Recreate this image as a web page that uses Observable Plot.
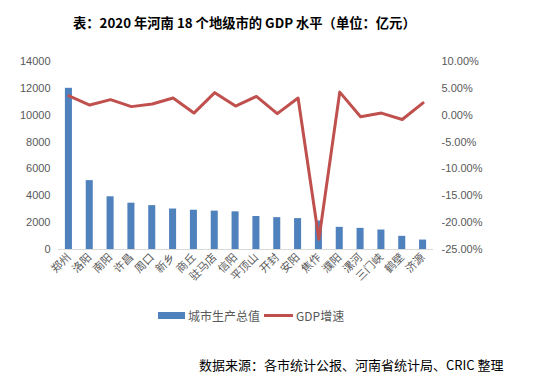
<!DOCTYPE html>
<html><head><meta charset="utf-8">
<script src="https://cdn.jsdelivr.net/npm/d3@7"></script>
<script src="https://cdn.jsdelivr.net/npm/@observablehq/plot@0.6"></script>
<style>
body{margin:0;background:#fff;width:534px;height:379px;position:relative;overflow:hidden;font-family:"Liberation Sans","Noto Sans CJK SC",sans-serif;}
#title{position:absolute;left:73px;top:13px;font:bold 13.3px "Noto Sans CJK SC",sans-serif;color:#000;white-space:nowrap;}
#chart{position:absolute;left:0;top:0;}
#legend{position:absolute;left:158px;top:307px;font:12px "Noto Sans CJK SC",sans-serif;color:#595959;display:flex;align-items:center;white-space:nowrap;}
#source{position:absolute;left:199px;top:355px;font:13px "Noto Sans CJK SC",sans-serif;color:#000;white-space:nowrap;}
</style></head>
<body>
<div id="title">表：2020 年河南 18 个地级市的 GDP 水平（单位：亿元）</div>
<div id="chart"></div>
<div id="legend"><span style="display:inline-block;width:27px;height:7px;background:#4F81BD;margin-right:3px"></span>城市生产总值<span style="display:inline-block;width:29px;height:3px;background:#C0504D;margin:0 3px 0 4px"></span>GDP增速</div>
<div id="source">数据来源：各市统计公报、河南省统计局、CRIC 整理</div>
<script>
const cities = ["郑州","洛阳","南阳","许昌","周口","新乡","商丘","驻马店","信阳","平顶山","开封","安阳","焦作","濮阳","漯河","三门峡","鹤壁","济源"];
const gdp = [12003,5128,3926,3449,3267,3014,2925,2859,2805,2455,2371,2300,2123,1649,1573,1450,981,703];
const growth = [3.6,1.9,2.9,1.6,2.1,3.2,0.4,4.2,1.7,3.5,0.3,3.2,-23.1,4.3,-0.3,0.4,-0.8,2.3];
const leftTicks = [0,2000,4000,6000,8000,10000,12000,14000];
const rightTicks = [10,5,0,-5,-10,-15,-20,-25];

const LMAX = 14000, RMIN = -25, RMAX = 10;
const toLeft = v => (v - RMIN) / (RMAX - RMIN) * LMAX;
const fromLeft = d => d / LMAX * (RMAX - RMIN) + RMIN;

const data = cities.map((c, i) => ({city: c, gdp: gdp[i], g: toLeft(growth[i])}));

const chart = Plot.plot({
  width: 534,
  height: 300,
  marginTop: 61,
  marginBottom: 51,
  marginLeft: 58,
  marginRight: 101,
  style: {fontFamily: '"Liberation Sans","Noto Sans CJK SC",sans-serif', fontSize: "11px", color: "#595959", background: "transparent"},
  x: {domain: cities, padding: 0, round: false, label: null},
  y: {domain: [0, LMAX], label: null},
  marks: [
    Plot.barY(data, {x: "city", y: "gdp", fill: "#4F81BD", insetLeft: 6.9, insetRight: 6.9}),
    Plot.ruleY([0], {stroke: "#d9d9d9", strokeWidth: 1}),
    Plot.line(data, {x: "city", y: "g", stroke: "#C0504D", strokeWidth: 3, strokeLinejoin: "round", curve: "linear"}),
    Plot.axisY(leftTicks, {anchor: "left", tickSize: 0, tickPadding: 8, label: null, tickFormat: d => String(d)}),
    Plot.axisY(rightTicks.map(toLeft), {anchor: "right", tickSize: 0, tickPadding: 8, label: null, tickFormat: d => (Math.round(fromLeft(d))+0).toFixed(2) + "%"}),
    Plot.axisX({tickSize: 0, tickPadding: 6, tickRotate: -45, label: null, fontFamily: '"Noto Sans CJK SC",sans-serif'})
  ]
});
document.getElementById("chart").appendChild(chart);
</script>
</body></html>
